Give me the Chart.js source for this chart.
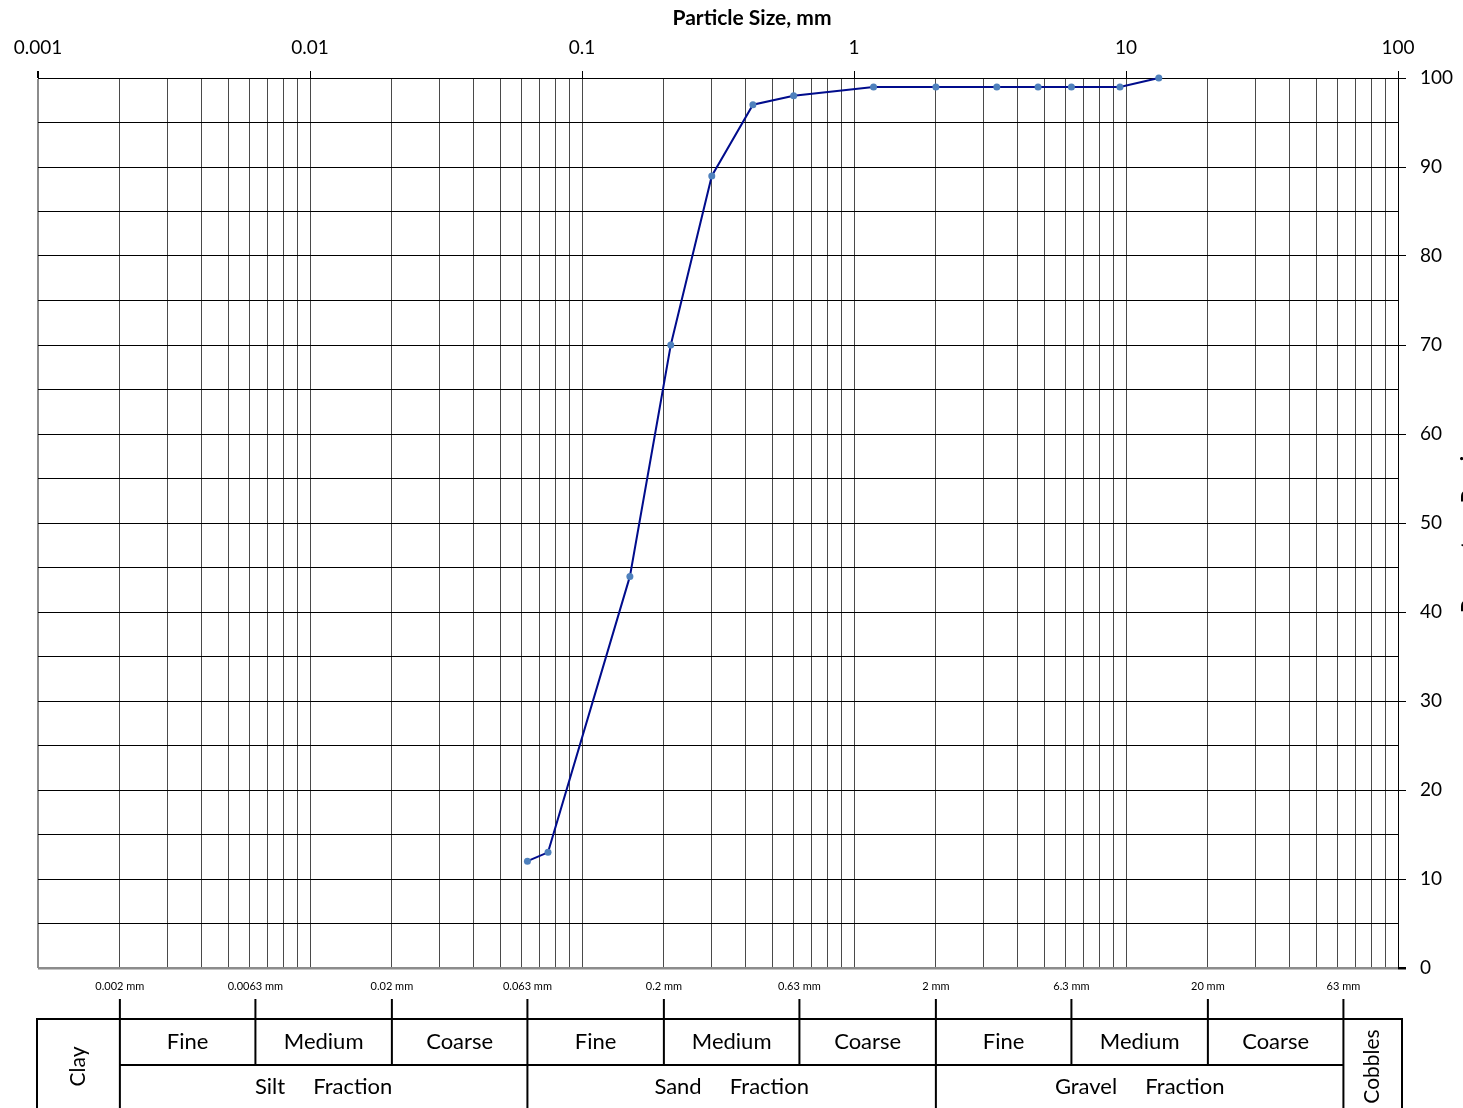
<!DOCTYPE html>
<html>
<head>
<meta charset="utf-8">
<title>Particle Size Distribution</title>
<script src="https://cdn.jsdelivr.net/npm/chart.js@4.4.1/dist/chart.umd.min.js"></script>
<style>
  body { margin: 0; background: #fff; }
  #wrap { width: 1463px; height: 1108px; }
</style>
</head>
<body>
<div id="wrap"><canvas id="psdChart" width="1463" height="1108"></canvas></div>
<script>
// sieve sizes (mm) and % passing
const sieveSizes = [0.063, 0.075, 0.15, 0.212, 0.3, 0.425, 0.6, 1.18, 2, 3.35, 4.75, 6.3, 9.5, 13.2];
const passing    = [12, 13, 44, 70, 89, 97, 98, 99, 99, 99, 99, 99, 99, 100];

// axis labels
const decadeTicks = [0.001, 0.01, 0.1, 1, 10, 100];
const passingTicks = [0, 10, 20, 30, 40, 50, 60, 70, 80, 90, 100];

// classification strip under the chart
const boundaries = [0.002, 0.0063, 0.02, 0.063, 0.2, 0.63, 2, 6.3, 20, 63];
const boundaryLabels = ['0.002 mm', '0.0063 mm', '0.02 mm', '0.063 mm', '0.2 mm', '0.63 mm', '2 mm', '6.3 mm', '20 mm', '63 mm'];
const subLabels = ['Fine', 'Medium', 'Coarse', 'Fine', 'Medium', 'Coarse', 'Fine', 'Medium', 'Coarse'];
const fractionLabels = ['Silt     Fraction', 'Sand     Fraction', 'Gravel     Fraction'];
const mainBoundaries = [0, 3, 6, 9]; // these run full height of the strip

Chart.defaults.font.family = 'Lato, "Open Sans", sans-serif';
Chart.defaults.color = '#000';

// gridlines at 1..9 of every decade
function logGridValues() {
  var vals = [];
  for (var i = 0; i < decadeTicks.length - 1; i++) {
    for (var m = 1; m <= 9; m++) vals.push(+(m * decadeTicks[i]).toPrecision(3));
  }
  vals.push(decadeTicks[decadeTicks.length - 1]);
  return vals;
}
function isDecade(v) {
  return decadeTicks.some(d => Math.abs(d - v) / d < 1e-6);
}

const stripPlugin = {
  id: 'classStrip',
  afterDraw(chart) {
    const ctx = chart.ctx, area = chart.chartArea, x = chart.scales.x;
    const tickTop = area.bottom + 31, top = area.bottom + 51, mid = area.bottom + 97, bot = chart.height + 4;
    const left = area.left - 1, right = area.right + 4;
    const px = boundaries.map(b => x.getPixelForValue(b));

    ctx.save();
    ctx.fillStyle = '#000';
    // chart title
    ctx.font = 'bold 21px Lato, sans-serif';
    ctx.textAlign = 'center';
    ctx.textBaseline = 'middle';
    ctx.fillText('Particle Size, mm', (area.left + area.right) / 2 + 34, 18);

    // right axis title, mostly off the page like the original
    ctx.save();
    ctx.translate(chart.width + 6, (area.top + area.bottom) / 2);
    ctx.rotate(-Math.PI / 2);
    ctx.fillText('Percentage Passing', 0, 0);
    ctx.restore();

    // boundary labels
    ctx.font = '11px Lato, sans-serif';
    px.forEach((p, i) => ctx.fillText(boundaryLabels[i], p, area.bottom + 18));

    ctx.strokeStyle = '#000';
    ctx.lineWidth = 2;
    ctx.beginPath();
    ctx.moveTo(left, bot); ctx.lineTo(left, top); ctx.lineTo(right, top); ctx.lineTo(right, bot);
    ctx.moveTo(px[0], mid); ctx.lineTo(px[9], mid);
    px.forEach((p, i) => {
      ctx.moveTo(p, tickTop);
      ctx.lineTo(p, mainBoundaries.includes(i) ? bot : mid);
    });
    ctx.stroke();

    ctx.font = '22px Lato, sans-serif';
    for (var i = 0; i < subLabels.length; i++) {
      ctx.fillText(subLabels[i], (px[i] + px[i + 1]) / 2, (top + mid) / 2);
    }
    for (var j = 0; j < fractionLabels.length; j++) {
      var a = px[mainBoundaries[j]], b = px[mainBoundaries[j + 1]];
      ctx.fillText(fractionLabels[j], (a + b) / 2, mid + 22);
    }
    ctx.font = '21px Lato, sans-serif';
    [['Clay', (left + px[0]) / 2], ['Cobbles', (px[9] + right) / 2]].forEach(function(c) {
      ctx.save();
      ctx.translate(c[1], (top + chart.height) / 2 + 3);
      ctx.rotate(-Math.PI / 2);
      ctx.fillText(c[0], 0, 0);
      ctx.restore();
    });
    ctx.restore();
  }
};

new Chart(document.getElementById('psdChart'), {
  type: 'scatter',
  data: {
    datasets: [{
      label: 'Passing',
      data: sieveSizes.map((s, i) => ({x: s, y: passing[i]})),
      showLine: true,
      borderColor: '#000c8c',
      borderWidth: 2,
      pointRadius: 3.5,
      pointBackgroundColor: '#4f81bd',
      pointBorderWidth: 0,
      clip: false
    }]
  },
  options: {
    responsive: false,
    animation: false,
    layout: { padding: { left: 38, top: 0, right: 0, bottom: 140 } },
    plugins: { legend: { display: false }, tooltip: { enabled: false } },
    scales: {
      x: {
        type: 'logarithmic',
        position: 'top',
        min: 0.001, max: 100,
        afterBuildTicks: s => { s.ticks = logGridValues().map(v => ({value: v})); },
        afterFit: s => { s.height = 78; },
        ticks: {
          autoSkip: false, maxRotation: 0, padding: 12,
          font: { size: 19 },
          callback: v => isDecade(v) ? String(v) : ''
        },
        grid: {
          color: c => c.tick && c.tick.value === 0.001 ? '#8c8c8c' : '#4a4a4a',
          lineWidth: c => c.tick && c.tick.value === 0.001 ? 2 : 1,
          tickColor: c => c.tick && isDecade(c.tick.value) ? '#000' : 'rgba(0,0,0,0)',
          tickLength: 7
        },
        border: { color: '#000', width: 1 }
      },
      y: {
        type: 'linear',
        position: 'right',
        min: 0, max: 100,
        afterBuildTicks: s => {
          var t = [];
          for (var v = 0; v <= 100; v += 5) t.push({value: v});
          s.ticks = t;
        },
        afterFit: s => { s.width = 65; },
        ticks: {
          padding: 14,
          font: { size: 19 },
          callback: v => passingTicks.includes(v) ? String(v) : ''
        },
        grid: {
          color: c => c.tick && c.tick.value === 0 ? '#8c8c8c' : '#000',
          lineWidth: c => c.tick && c.tick.value === 0 ? 2.5 : 1,
          tickColor: c => c.tick && passingTicks.includes(c.tick.value) ? '#000' : 'rgba(0,0,0,0)',
          tickLength: 8
        },
        border: { color: '#000', width: 1 }
      }
    }
  },
  plugins: [stripPlugin]
});
</script>
</body>
</html>
